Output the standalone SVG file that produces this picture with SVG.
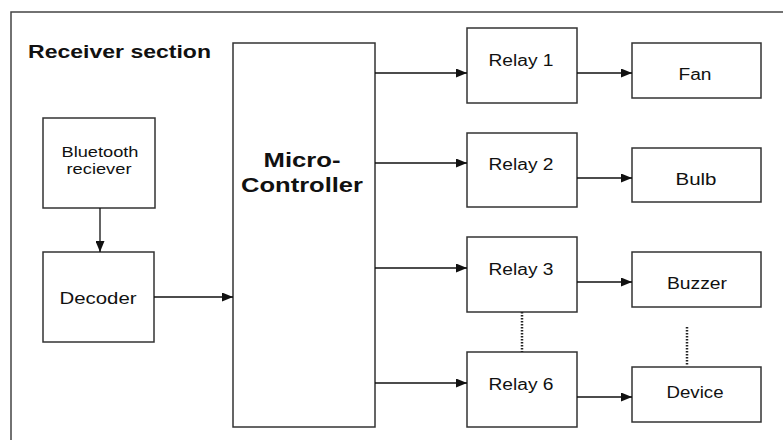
<svg xmlns="http://www.w3.org/2000/svg" width="783" height="440" viewBox="0 0 783 440">
<style>
.box{fill:#fff;stroke:#333;stroke-width:1.5}
.t{font-family:"Liberation Sans",Arial,sans-serif;font-size:16px;fill:#111;text-anchor:middle}
.b{font-weight:bold}
.c{stroke:#111;stroke-width:1.3;fill:none}
.d{stroke:#222;stroke-width:2.5;stroke-dasharray:1.5 1.5;fill:none}
</style>
<defs>
<marker id="ah" markerWidth="11" markerHeight="9" refX="11" refY="4.5" orient="auto" markerUnits="userSpaceOnUse">
<path d="M0,0 L11,4.5 L0,9 Z" fill="#111"/>
</marker>
</defs>
<rect x="0" y="0" width="783" height="440" fill="#fff"/>
<path d="M11,445 V12 H790" fill="none" stroke="#444" stroke-width="1.5"/>
<text class="t b" x="28" y="58" style="text-anchor:start;font-size:18px" textLength="183" lengthAdjust="spacingAndGlyphs">Receiver section</text>

<g id="bluetooth">
<rect class="box" x="43" y="118" width="112" height="90"/>
<text class="t" x="100" y="157" style="font-size:15px" textLength="77" lengthAdjust="spacingAndGlyphs">Bluetooth</text>
<text class="t" x="99" y="174" style="font-size:15px" textLength="65" lengthAdjust="spacingAndGlyphs">reciever</text>
</g>
<g id="decoder">
<rect class="box" x="43" y="252" width="111" height="90"/>
<text class="t" x="98" y="304" textLength="77" lengthAdjust="spacingAndGlyphs">Decoder</text>
</g>
<g id="micro">
<rect class="box" x="233" y="43" width="142" height="384"/>
<text class="t b" x="302" y="167" style="font-size:20px" textLength="77" lengthAdjust="spacingAndGlyphs">Micro-</text>
<text class="t b" x="302" y="192" style="font-size:20px" textLength="122" lengthAdjust="spacingAndGlyphs">Controller</text>
</g>
<g id="relay1">
<rect class="box" x="467" y="28" width="110" height="75"/>
<text class="t" x="521" y="66" textLength="65" lengthAdjust="spacingAndGlyphs">Relay 1</text>
</g>
<g id="relay2">
<rect class="box" x="467" y="133" width="110" height="74"/>
<text class="t" x="521" y="170" textLength="65" lengthAdjust="spacingAndGlyphs">Relay 2</text>
</g>
<g id="relay3">
<rect class="box" x="467" y="237" width="110" height="75"/>
<text class="t" x="521" y="275" textLength="65" lengthAdjust="spacingAndGlyphs">Relay 3</text>
</g>
<g id="relay6">
<rect class="box" x="467" y="352" width="110" height="75"/>
<text class="t" x="521" y="390" textLength="65" lengthAdjust="spacingAndGlyphs">Relay 6</text>
</g>
<g id="fan">
<rect class="box" x="632" y="43" width="129" height="55"/>
<text class="t" x="695" y="80" textLength="33" lengthAdjust="spacingAndGlyphs">Fan</text>
</g>
<g id="bulb">
<rect class="box" x="632" y="148" width="129" height="54"/>
<text class="t" x="696" y="185" textLength="41" lengthAdjust="spacingAndGlyphs">Bulb</text>
</g>
<g id="buzzer">
<rect class="box" x="632" y="252" width="129" height="55"/>
<text class="t" x="697" y="289" textLength="60" lengthAdjust="spacingAndGlyphs">Buzzer</text>
</g>
<g id="device">
<rect class="box" x="632" y="367" width="129" height="55"/>
<text class="t" x="695" y="398" textLength="57" lengthAdjust="spacingAndGlyphs">Device</text>
</g>

<g id="connectors">
<line class="c" x1="100" y1="208" x2="100" y2="252" marker-end="url(#ah)"/>
<line class="c" x1="154" y1="297" x2="233" y2="297" marker-end="url(#ah)"/>
<line class="c" x1="375" y1="73" x2="467" y2="73" marker-end="url(#ah)"/>
<line class="c" x1="375" y1="163" x2="467" y2="163" marker-end="url(#ah)"/>
<line class="c" x1="375" y1="268" x2="467" y2="268" marker-end="url(#ah)"/>
<line class="c" x1="375" y1="383" x2="467" y2="383" marker-end="url(#ah)"/>
<line class="c" x1="577" y1="73" x2="632" y2="73" marker-end="url(#ah)"/>
<line class="c" x1="577" y1="178" x2="632" y2="178" marker-end="url(#ah)"/>
<line class="c" x1="577" y1="282" x2="632" y2="282" marker-end="url(#ah)"/>
<line class="c" x1="577" y1="397" x2="632" y2="397" marker-end="url(#ah)"/>
<line class="d" x1="522" y1="312" x2="522" y2="352"/>
<line class="d" x1="687" y1="327" x2="687" y2="365"/>
</g>
</svg>
